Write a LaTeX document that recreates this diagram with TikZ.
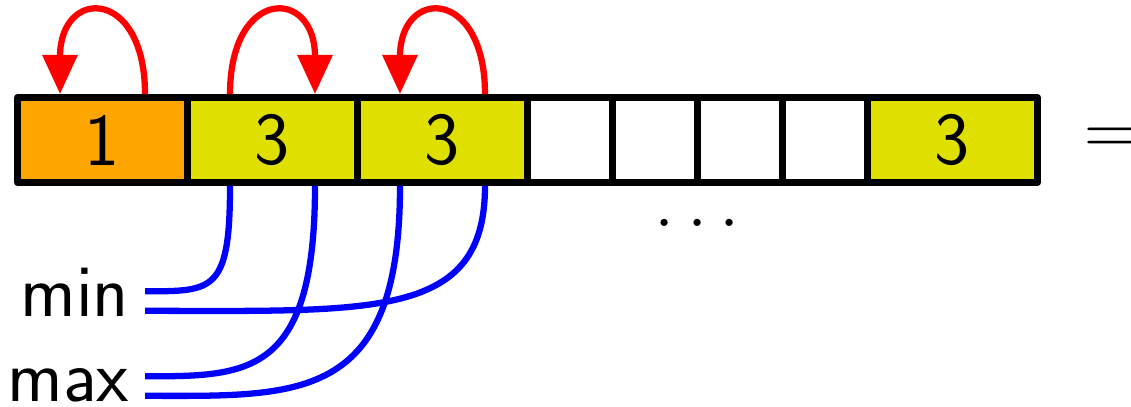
\documentclass[tikz,border=0pt]{standalone}
\usepackage{tikz}
\usetikzlibrary{arrows.meta}

\definecolor{cellorange}{RGB}{255,165,0}
\definecolor{cellyellow}{RGB}{224,224,0}

\begin{document}
\begin{tikzpicture}[
    cell/.style={draw, line width=2.3pt, line join=round, minimum width=2cm,
                 minimum height=1cm, inner sep=0pt,
                 font=\fontsize{25}{30}\selectfont\sffamily},
    half/.style={cell, minimum width=1cm},
    jump/.style={-{Triangle[length=4.6mm, width=4mm]}, red, line width=2.1pt},
    link/.style={blue, line width=2.1pt},
    label/.style={inner sep=0pt, anchor=base east,
                  font=\fontsize{25}{30}\selectfont\sffamily}
]
\useasboundingbox (-0.206,-2.63) rectangle (13.1,2.147);

% Array
\node[cell, fill=cellorange] (cell1) at (1,0.5) {1};
\node[cell, fill=cellyellow] (cell2) at (3,0.5) {3};
\node[cell, fill=cellyellow] (cell3) at (5,0.5) {3};
\node[half] (cell4) at (6.5,0.5) {};
\node[half] (cell5) at (7.5,0.5) {};
\node[half] (cell6) at (8.5,0.5) {};
\node[half] (cell7) at (9.5,0.5) {};
\node[cell, fill=cellyellow] (cell8) at (11,0.5) {3};

\node[inner sep=0pt, anchor=base, font=\fontsize{25}{30}\selectfont] (dots) at (8,-0.52) {$\ldots$};
\node[inner sep=0pt, anchor=base west, font=\fontsize{25}{30}\selectfont] (eq) at (12.54,0.33) {$=$};

% Parent pointers
\draw[jump] ([xshift=5mm]cell1.north) .. controls +(0,1.26) and +(0,1.26) .. ([xshift=-5mm]cell1.north);
\draw[jump] ([xshift=-5mm]cell2.north) .. controls +(0,1.26) and +(0,1.26) .. ([xshift=5mm]cell2.north);
\draw[jump] ([xshift=5mm]cell3.north) .. controls +(0,1.26) and +(0,1.26) .. ([xshift=-5mm]cell3.north);

% min / max
\node[label] (min) at (1.32,-1.58) {min};
\node[label] (max) at (1.32,-2.58) {max};

\draw[link] ([xshift=-5mm]cell2.south) .. controls +(0,-1.25) and +(0.8,0) .. ([xshift=1.8mm, yshift=3mm]min.base east);
\draw[link] ([xshift=5mm]cell3.south) .. controls +(0,-1.57) and +(2.7,0) .. ([xshift=1.8mm, yshift=0.7mm]min.base east);
\draw[link] ([xshift=5mm]cell2.south) .. controls +(0,-2.25) and +(1.2,0) .. ([xshift=1.8mm, yshift=3mm]max.base east);
\draw[link] ([xshift=-5mm]cell3.south) .. controls +(0,-2.57) and +(1.8,0) .. ([xshift=1.8mm, yshift=0.7mm]max.base east);
\end{tikzpicture}
\end{document}
